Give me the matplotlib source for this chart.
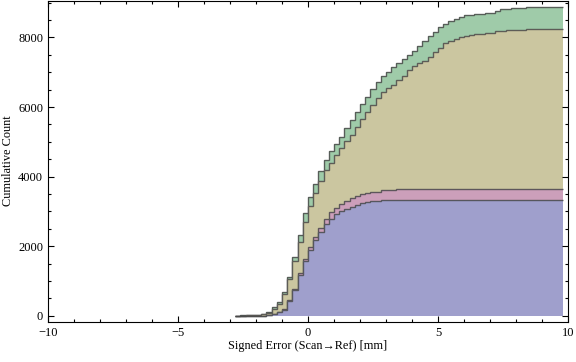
import numpy as np
import matplotlib
matplotlib.use("Agg")
import matplotlib.pyplot as plt
from matplotlib.ticker import MultipleLocator

plt.rcParams['font.family'] = ['Liberation Serif', 'DejaVu Serif']

# bin edges of the cumulative histogram (width 0.2 mm)
edges = np.round(np.arange(-2.8, 9.8001, 0.2), 2)

# cumulative counts per bin
green = [5, 10, 15, 20, 30, 50, 100, 240, 411, 690, 1130, 1687, 2328, 2951, 3428,
         3793, 4157, 4483, 4732, 4940, 5152, 5393, 5632, 5853, 6083, 6284, 6514,
         6733, 6897, 7020, 7146, 7279, 7385, 7500, 7624, 7750, 7890, 8027, 8150,
         8290, 8400, 8480, 8534, 8583, 8640, 8640, 8678, 8678, 8716, 8716, 8764,
         8813, 8813, 8851, 8851, 8851, 8870, 8870, 8870, 8870, 8870, 8870, 8870]
khaki = [3, 6, 10, 15, 25, 40, 80, 190, 345, 630, 1063, 1572, 2136, 2710, 3170,
         3543, 3888, 4195, 4405, 4635, 4820, 5020, 5201, 5422, 5652, 5853, 6063,
         6256, 6419, 6544, 6638, 6782, 6897, 7050, 7184, 7260, 7337, 7452, 7577,
         7710, 7836, 7902, 7960, 8008, 8027, 8066, 8103, 8103, 8141, 8141, 8181,
         8181, 8210, 8210, 8228, 8228, 8256, 8256, 8256, 8256, 8256, 8256, 8256]
pink = [0, 0, 0, 0, 0, 5, 20, 55, 124, 210, 460, 767, 1220, 1640, 1992, 2279,
        2537, 2778, 2975, 3095, 3215, 3296, 3382, 3448, 3497, 3525, 3572, 3572,
        3612, 3612, 3612, 3640, 3640, 3640, 3640, 3640, 3640, 3640, 3640, 3640,
        3640, 3640, 3640, 3640, 3640, 3640, 3640, 3640, 3640, 3640, 3640, 3640,
        3640, 3640, 3640, 3640, 3640, 3640, 3640, 3640, 3640, 3640, 3640]
blue = [0, 0, 0, 0, 0, 3, 10, 40, 100, 180, 420, 740, 1180, 1590, 1900, 2170,
        2420, 2635, 2790, 2920, 3010, 3075, 3141, 3199, 3238, 3267, 3296, 3296,
        3325, 3325, 3325, 3325, 3325, 3325, 3325, 3325, 3325, 3325, 3325, 3325,
        3325, 3325, 3325, 3325, 3325, 3325, 3325, 3325, 3325, 3325, 3325, 3325,
        3325, 3325, 3325, 3325, 3325, 3325, 3325, 3325, 3325, 3325, 3325]

series = [green, khaki, pink, blue]
colors = ['#9fcba9', '#cbc6a0', '#cc9fba', '#9f9fcc']

fig = plt.figure(figsize=(5.76, 3.62), dpi=100)
ax = fig.add_axes([48 / 576, 40 / 362, 520 / 576, 321 / 362])

for vals, c in zip(series, colors):
    ax.stairs(vals, edges, fill=True, color=c, baseline=0, lw=0)
    ax.stairs(vals, edges, baseline=None, color='#4a4a4a', lw=1.0, alpha=0.85)

ax.set_xlim(-10, 10)
ax.set_ylim(-177, 9047)

ax.xaxis.set_major_locator(MultipleLocator(5))
ax.xaxis.set_minor_locator(MultipleLocator(1))
ax.yaxis.set_major_locator(MultipleLocator(2000))
ax.yaxis.set_minor_locator(MultipleLocator(500))
ax.tick_params(which='both', direction='in', top=True, right=True,
               width=0.8, labelsize=9, colors='black')
ax.tick_params(which='major', length=4.5, pad=3.5)
ax.tick_params(which='minor', length=2.5)
for s in ax.spines.values():
    s.set_linewidth(0.8)

ax.set_xlabel('Signed Error (Scan\u2192Ref) [mm]', fontsize=8.8, labelpad=1)
fig.text(8.5 / 576, 1 - 161 / 362, 'Cumulative Count', fontsize=8.8,
         rotation=90, ha='center', va='center')

fig.savefig('out.png', dpi=100)
